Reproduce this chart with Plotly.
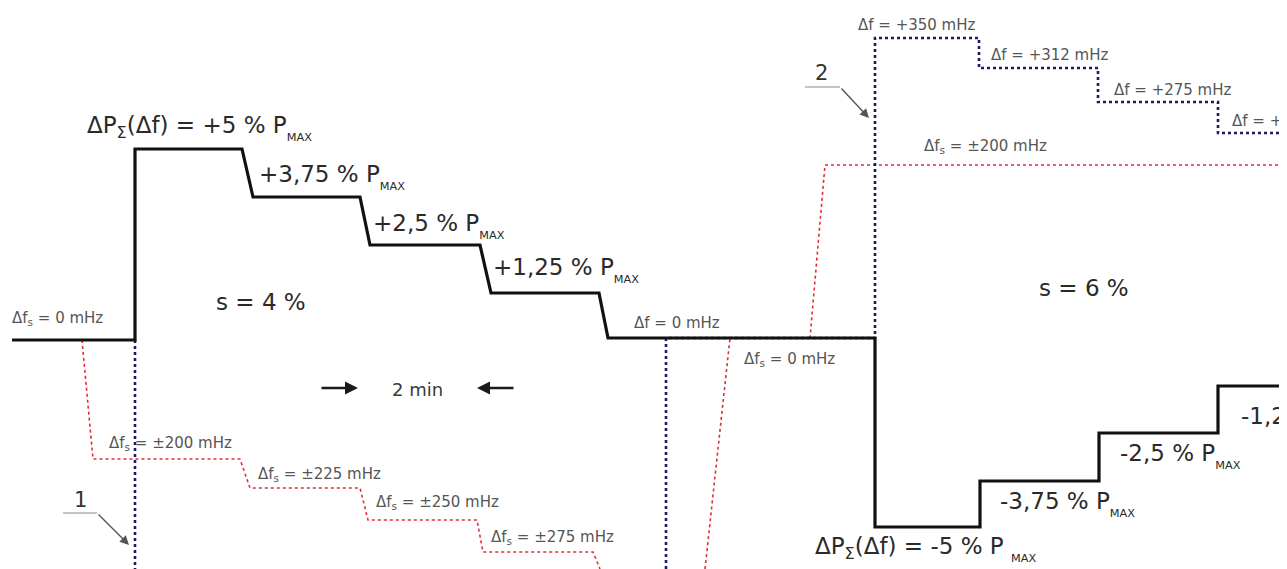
import plotly.graph_objects as go

# --- 資料（圖面座標：x 為時間軸位置，y 為上下位置，y 軸反轉） ---
# 功率響應 ΔPΣ(Δf)
power_t = [12, 135, 135, 242, 253, 360, 370, 480, 491, 599, 608, 875, 875, 980, 980, 1099, 1099, 1218, 1218, 1287]
power_y = [340, 340, 149, 149, 197, 197, 245, 245, 293, 293, 338, 338, 527, 527, 481, 481, 433, 433, 386, 386]

# 頻率偏差 Δf（藍色點線）
freq_t = [135, 135, None, 666, 666, 875, 875, 979, 979, 1098, 1098, 1218, 1218, 1287]
freq_y = [340, 569, None, 569, 338, 338, 38, 38, 68, 68, 102, 102, 133, 133]

# 設定值 Δfs（紅色點線）
fs_t = [82, 93, 240, 250, 360, 368, 477, 483, 593, 600, None, 705, 730, 810, 825, 1287]
fs_y = [340, 459, 459, 488, 488, 520, 520, 552, 552, 569, None, 569, 338, 338, 165, 165]

# 文字標籤 (x, y, text)
big_labels = [
    (85, 128, "ΔP<sub>Σ</sub>(Δf) = +5 % P<sub><sub>MAX</sub></sub>"),
    (257, 177, "+3,75 % P<sub><sub>MAX</sub></sub>"),
    (371, 226, "+2,5 % P<sub><sub>MAX</sub></sub>"),
    (491, 270, "+1,25 % P<sub><sub>MAX</sub></sub>"),
    (214, 302, "s = 4 %"),
    (1037, 288, "s = 6 %"),
    (1239, 416, "-1,2"),
    (1118, 456, "-2,5 % P<sub><sub>MAX</sub></sub>"),
    (998, 504, "-3,75 % P<sub><sub>MAX</sub></sub>"),
    (813, 549, "ΔP<sub>Σ</sub>(Δf) = -5 % P <sub><sub>MAX</sub></sub>"),
]
small_labels = [
    (10, 318, "Δf<sub>s</sub> = 0 mHz"),
    (632, 323, "Δf = 0 mHz"),
    (742, 359, "Δf<sub>s</sub> = 0 mHz"),
    (107, 443, "Δf<sub>s</sub> = ±200 mHz"),
    (256, 474, "Δf<sub>s</sub> = ±225 mHz"),
    (374, 502, "Δf<sub>s</sub> = ±250 mHz"),
    (489, 537, "Δf<sub>s</sub> = ±275 mHz"),
    (856, 25, "Δf = +350 mHz"),
    (989, 55, "Δf = +312 mHz"),
    (1112, 90, "Δf = +275 mHz"),
    (1230, 121, "Δf = +"),
    (922, 146, "Δf<sub>s</sub> = ±200 mHz"),
]

FONT = "DejaVu Sans, Liberation Sans, Arial"

fig = go.Figure()

fig.add_trace(go.Scatter(x=fs_t, y=fs_y, mode="lines",
                         line=dict(color="rgb(225,45,55)", width=1.6, dash="dot")))
fig.add_trace(go.Scatter(x=freq_t, y=freq_y, mode="lines",
                         line=dict(color="rgb(25,28,100)", width=2.6, dash="dot")))
fig.add_trace(go.Scatter(x=power_t, y=power_y, mode="lines",
                         line=dict(color="#111111", width=3.2)))

# 引線 1、2
fig.add_trace(go.Scatter(x=[63, 97, None, 805, 840], y=[513, 513, None, 87, 87], mode="lines",
                         line=dict(color="#8a8a8a", width=1.2)))

annotations = []
for x, y, t in big_labels:
    annotations.append(dict(x=x, y=y, text=t, xanchor="left", yanchor="middle", showarrow=False,
                            font=dict(size=23, color="#2a2a2a", family=FONT)))
for x, y, t in small_labels:
    annotations.append(dict(x=x, y=y, text=t, xanchor="left", yanchor="middle", showarrow=False,
                            font=dict(size=15, color="#555555", family=FONT)))

# 2 min 標示
annotations.append(dict(x=417, y=389, text="2 min", showarrow=False,
                        font=dict(size=18, color="#3a3a3a", family=FONT)))
annotations.append(dict(x=358, y=388, ax=320, ay=388, axref="x", ayref="y", text="",
                        showarrow=True, arrowhead=2, arrowsize=1, arrowwidth=2.6, arrowcolor="#1a1a1a"))
annotations.append(dict(x=477, y=388, ax=515, ay=388, axref="x", ayref="y", text="",
                        showarrow=True, arrowhead=2, arrowsize=1, arrowwidth=2.6, arrowcolor="#1a1a1a"))

# 編號 1、2
annotations.append(dict(x=80, y=500, text="1", showarrow=False,
                        font=dict(size=21, color="#333333", family=FONT)))
annotations.append(dict(x=821, y=73, text="2", showarrow=False,
                        font=dict(size=21, color="#333333", family=FONT)))
annotations.append(dict(x=129, y=545, ax=97, ay=513, axref="x", ayref="y", text="",
                        showarrow=True, arrowhead=2, arrowsize=1.3, arrowwidth=1.4, arrowcolor="#555555"))
annotations.append(dict(x=869, y=118, ax=840, ay=87, axref="x", ayref="y", text="",
                        showarrow=True, arrowhead=2, arrowsize=1.3, arrowwidth=1.4, arrowcolor="#555555"))

# 頁面 body 有 8px 邊距，故圖寬高各減 8，座標範圍由 8 起算
fig.update_layout(
    width=1279, height=561,
    margin=dict(l=0, r=0, t=0, b=0),
    paper_bgcolor="white", plot_bgcolor="white",
    showlegend=False,
    xaxis=dict(range=[8, 1287], visible=False, fixedrange=True),
    yaxis=dict(range=[569, 8], visible=False, fixedrange=True),
    annotations=annotations,
)

fig.write_html("out.html")
